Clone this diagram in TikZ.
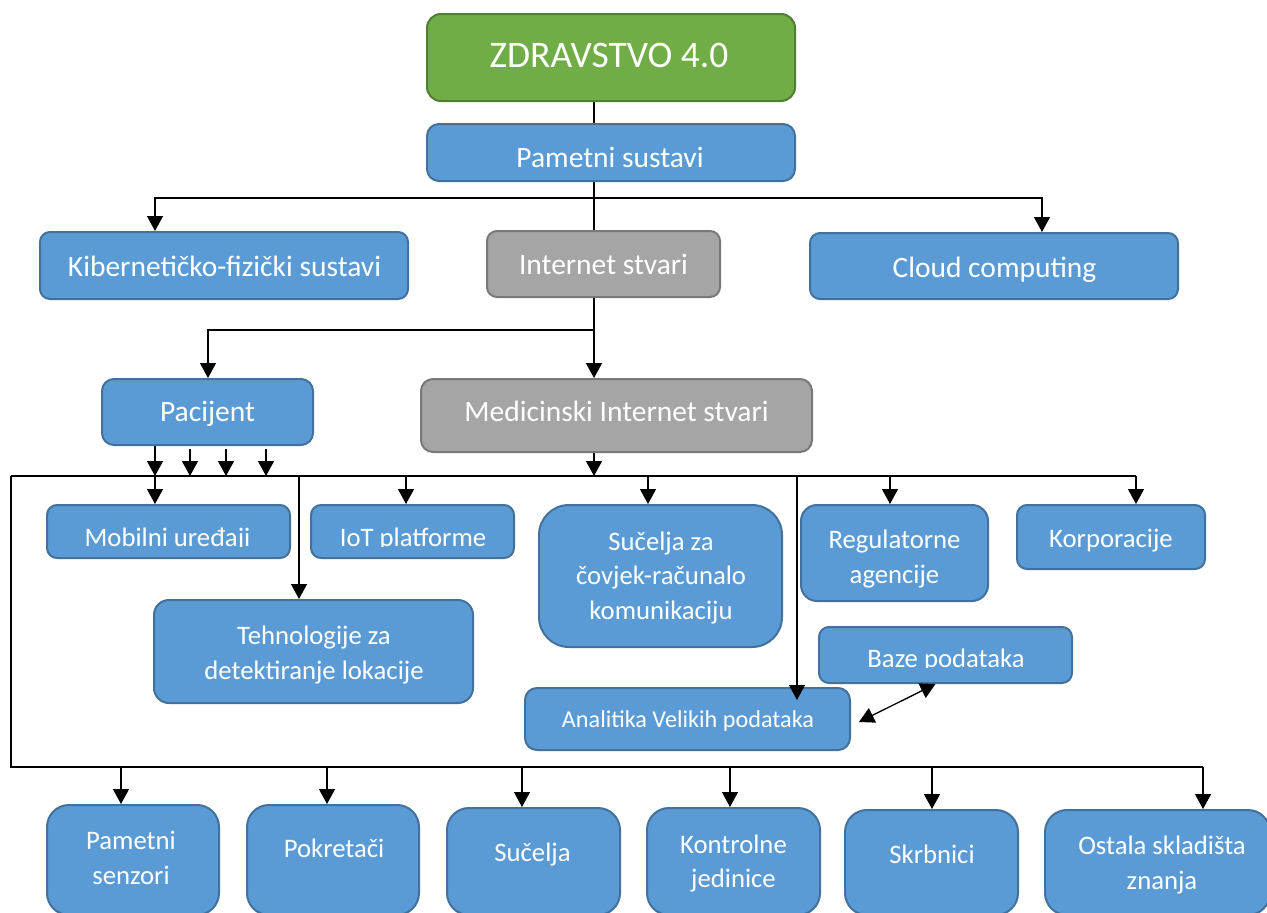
\documentclass[tikz,border=0pt]{standalone}
\usepackage{fontspec}
\setmainfont{Carlito}
\usetikzlibrary{arrows.meta}
\definecolor{bfill}{HTML}{5B9BD5}
\definecolor{bline}{HTML}{41719C}
\definecolor{gfill}{HTML}{70AD47}
\definecolor{gline}{HTML}{507E32}
\definecolor{yfill}{HTML}{A5A5A5}
\definecolor{yline}{HTML}{787878}
\begin{document}
\begin{tikzpicture}[x=1pt,y=-1pt,
 box/.style={draw=bline, fill=bfill, line width=2pt, rounded corners=10pt, inner sep=0pt},
 gbox/.style={box, draw=gline, fill=gfill},
 ybox/.style={box, draw=yline, fill=yfill},
 sz/.style 2 args={minimum width=#1pt, minimum height=#2pt},
 tx/.style={text=white, inner sep=0pt, align=center},
 fa/.style={font=\fontsize{37.5}{44}\selectfont},
 fb/.style={font=\fontsize{29.5}{35}\selectfont},
 fc/.style={font=\fontsize{26.7}{34.5}\selectfont},
 fd/.style={font=\fontsize{24.2}{30}\selectfont},
 ln/.style={line width=1.3pt, draw=black},
 arr/.style={ln, -{Triangle[length=15pt,width=16pt]}},
 darr/.style={ln, {Triangle[length=15pt,width=16pt]}-{Triangle[length=15pt,width=16pt]}},
]
\useasboundingbox (0,0) rectangle (1267,913);
\fill[white] (0,0) rectangle (1267,913);
\clip (0,0) rectangle (1267,913);

% top levels
\node[gbox, sz={368}{87}, rounded corners=14pt] (zd) at (611,57.5) {};
\node[tx,fa,anchor=base] (zdT) at (609,67) {ZDRAVSTVO 4.0};
\node[box, sz={368}{57}, rounded corners=12pt] (ps) at (611,152.5) {};
\node[tx,fb,anchor=base] (psT) at (610,167) {Pametni sustavi};
\node[box, sz={368}{67}] (kf) at (224,265.5) {};
\node[tx,fb,anchor=base] (kfT) at (224.5,276) {Kibernetičko-fizički sustavi};
\node[ybox, sz={233}{66}] (is) at (603.5,264) {};
\node[tx,fb,anchor=base] (isT) at (603.5,274) {Internet stvari};
\node[box, sz={368}{66}] (cc) at (994,266) {};
\node[tx,fb,anchor=base] (ccT) at (994.5,277) {Cloud computing};
\node[box, sz={211}{66}, rounded corners=12pt] (pac) at (207.5,412) {};
\node[tx,fb,anchor=base] (pacT) at (207.5,421) {Pacijent};
\node[ybox, sz={391}{73}, rounded corners=12pt] (mis) at (616.5,415.5) {};
\node[tx,fb,anchor=base] (misT) at (616.5,421) {Medicinski Internet stvari};

% middle level
\node[box, sz={243}{53}] (mob) at (168.5,531.5) {};
\node[box, sz={203}{53}] (iot) at (412.5,531.5) {};
\begin{scope}
\clip (30,500) rectangle (530,546);
\node[tx,fc,anchor=base] (mobT) at (167.5,546) {Mobilni uređaji};
\node[tx,fc,anchor=base] (iotT) at (413,546) {IoT platforme};
\end{scope}
\node[box, sz={243}{142}, rounded corners=30pt] (szc) at (660.5,576) {};
\node[tx,fc] (szcT) at (661,578) {Sučelja za\\čovjek-računalo\\komunikaciju};
\node[box, sz={187}{96}, rounded corners=16pt] (reg) at (894.5,553) {};
\node[tx,fc] (regT) at (894.5,559) {Regulatorne\\agencije};
\node[box, sz={188}{64}] (kor) at (1111,537) {};
\node[tx,fc,anchor=base] (korT) at (1111,547) {Korporacije};
\node[box, sz={319}{103}, rounded corners=15pt] (teh) at (313.5,651.5) {};
\node[tx,fc] (tehT) at (314,655) {Tehnologije za\\detektiranje lokacije};
\node[box, sz={253}{56}] (baz) at (945.5,655) {};
\begin{scope}
\clip (810,620) rectangle (1080,667);
\node[tx,fc,anchor=base] (bazT) at (946,667) {Baze podataka};
\end{scope}
\node[box, sz={325}{62}, rounded corners=12pt] (ana) at (687.5,719) {};
\node[tx,fd,anchor=base] (anaT) at (688,727) {Analitika Velikih podataka};

% bottom level
\node[box, sz={172}{110}, rounded corners=22pt] (sen) at (133,860) {};
\node[tx,fc] (senT) at (131,858) {Pametni\\senzori};
\node[box, sz={172}{110}, rounded corners=22pt] (pok) at (333,860) {};
\node[tx,fc,anchor=base] (pokT) at (334,857) {Pokretači};
\node[box, sz={173}{107}, rounded corners=22pt] (suc) at (533.5,861.5) {};
\node[tx,fc,anchor=base] (sucT) at (532.5,861) {Sučelja};
\node[box, sz={173}{107}, rounded corners=22pt] (kon) at (733.5,861.5) {};
\node[tx,fc] (konT) at (733.5,863.5) {Kontrolne\\jedinice};
\node[box, sz={173}{105}, rounded corners=22pt] (skr) at (931.5,862.5) {};
\node[tx,fc,anchor=base] (skrT) at (932,863) {Skrbnici};
\node[box, sz={225}{105}, rounded corners=22pt] (ost) at (1157.5,862.5) {};
\node[tx,fc] (ostT) at (1162,865) {Ostala skladišta\\znanja};

% connectors: top
\coordinate (c1) at (594,198);
\draw[ln] (zd.south -| c1) -- (ps.north -| c1);
\draw[ln] (ps.south -| c1) -- (is.north -| c1);
\coordinate (k1) at (155,198);
\coordinate (k2) at (1042,198);
\draw[darr] (kf.north -| k1) -- (k1) -- (k2) -- (cc.north -| k2);
\coordinate (c2) at (594,330);
\coordinate (c3) at (208,330);
\draw[ln] (is.south -| c2) -- (c2);
\draw[arr] (c2) -- (mis.north -| c2);
\draw[arr] (c2) -- (c3) -- (pac.north -| c3);

% main bus
\coordinate (bl) at (11,476);
\coordinate (br) at (1136,476);
\draw[ln] (bl) -- (br);
\coordinate (p1) at (155,476);
\coordinate (p2) at (190,476);
\coordinate (p3) at (226,476);
\coordinate (p4) at (266,476);
\coordinate (m1) at (594,476);
\draw[arr] (pac.south -| p1) -- (p1);
\draw[arr] ([yshift=-3pt]pac.south -| p2) -- (p2);
\draw[arr] ([yshift=-3pt]pac.south -| p3) -- (p3);
\draw[arr] ([yshift=-3pt]pac.south -| p4) -- (p4);
\draw[arr] (mis.south -| m1) -- (m1);
\coordinate (d2) at (406,476);
\coordinate (d3) at (648,476);
\coordinate (d4) at (890,476);
\coordinate (t1) at (299,476);
\coordinate (a1) at (797,476);
\draw[arr] (p1) -- (mob.north -| p1);
\draw[arr] (d2) -- (iot.north -| d2);
\draw[arr] (d3) -- (szc.north -| d3);
\draw[arr] (d4) -- (reg.north -| d4);
\draw[arr] (br) -- (kor.north -| br);
\draw[arr] (t1) -- (teh.north -| t1);
\draw[arr] (a1) -- ([yshift=-13pt]ana.north -| a1);
\draw[darr] ([xshift=-10pt]baz.south) -- ([xshift=8pt,yshift=-3pt]ana.east);

% bottom bus
\coordinate (bb) at (11,767);
\coordinate (bbr) at (1203,767);
\draw[ln] (bl) -- (bb) -- (bbr);
\coordinate (e1) at (121,767);
\coordinate (e2) at (327,767);
\coordinate (e3) at (522,767);
\coordinate (e4) at (730,767);
\coordinate (e5) at (932,767);
\draw[arr] (e1) -- (sen.north -| e1);
\draw[arr] (e2) -- (pok.north -| e2);
\draw[arr] (e3) -- (suc.north -| e3);
\draw[arr] (e4) -- (kon.north -| e4);
\draw[arr] (e5) -- (skr.north -| e5);
\draw[arr] (bbr) -- (ost.north -| bbr);
\end{tikzpicture}
\end{document}
